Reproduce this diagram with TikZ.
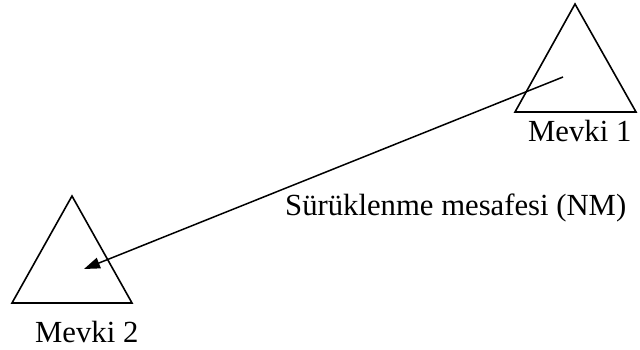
\documentclass[tikz,border=0pt]{standalone}
\usepackage{fontspec}
\setmainfont{Liberation Serif}
\usetikzlibrary{arrows.meta}
\begin{document}
\begin{tikzpicture}[x=1pt,y=-1pt,
  tri/.style={draw,line width=1.6pt,line join=miter},
  lbl/.style={inner sep=0pt,anchor=base west,font=\fontsize{30.7}{36}\selectfont},
  conn/.style={draw,line width=1.5pt,-{Triangle[length=16pt,width=11pt]}}]
\useasboundingbox (0,0) rectangle (640,350);
\coordinate (t1a) at (515,112);
\coordinate (t1b) at (636,112);
\coordinate (t1c) at (575,4);
\coordinate (t2a) at (12,303);
\coordinate (t2b) at (132,303);
\coordinate (t2c) at (72,196);
\draw[tri] (t1a) -- (t1b) -- (t1c) -- cycle;
\draw[tri] (t2a) -- (t2b) -- (t2c) -- cycle;
\coordinate (s) at (563,77);
\coordinate (e) at (84,269);
\draw[conn] (s) -- (e);
\node[lbl] (m1) at (528,142) {Mevki 1};
\node[lbl] (m2) at (35,342) {Mevki 2};
\node[lbl] (d) at (285,215) {Sürüklenme mesafesi (NM)};
\end{tikzpicture}
\end{document}
